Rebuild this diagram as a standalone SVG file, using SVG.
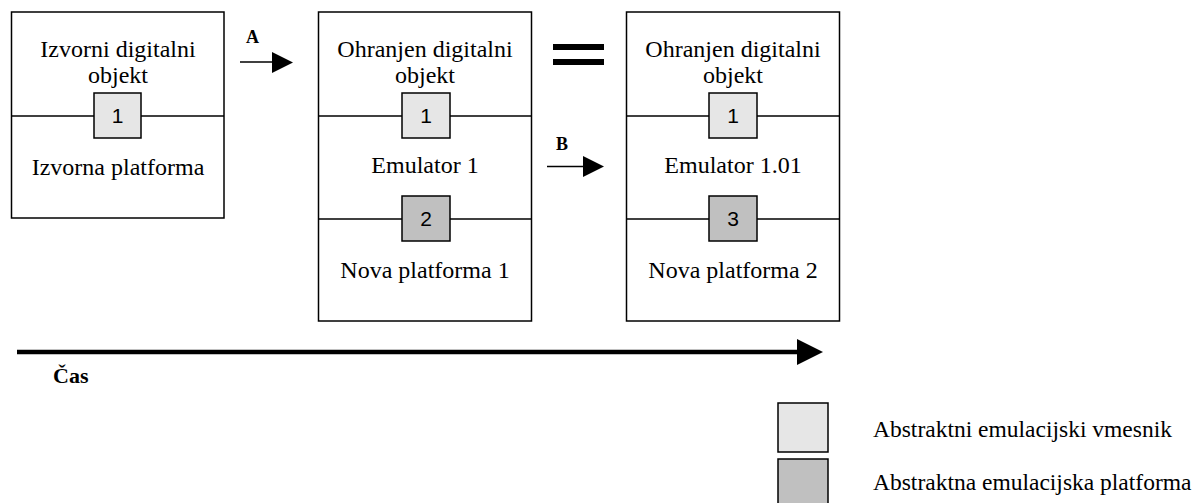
<svg xmlns="http://www.w3.org/2000/svg" width="1200" height="503" viewBox="0 0 1200 503">
<style>
.box{fill:#fff;stroke:#000;stroke-width:1.5}
.div{stroke:#000;stroke-width:1.5}
.sq1{fill:#e6e6e6;stroke:#000;stroke-width:1.5}
.sq2{fill:#c0c0c0;stroke:#000;stroke-width:1.5}
.t{font-family:"Liberation Serif","Times New Roman",serif;font-size:24px;fill:#000;text-anchor:middle}
.n{font-family:"Liberation Sans",Arial,sans-serif;font-size:21px;fill:#000;text-anchor:middle}
.b{font-family:"Liberation Serif","Times New Roman",serif;font-weight:bold;fill:#000}
.lg{font-family:"Liberation Serif","Times New Roman",serif;font-size:23.5px;fill:#000}
.ln{stroke:#000;stroke-width:1.5}
</style>
<rect width="1200" height="503" fill="#fff"/>
<g id="box1">
<rect class="box" x="11.5" y="12" width="212.5" height="206"/>
<line class="div" x1="11.5" y1="116" x2="224" y2="116"/>
<text class="t" x="118" y="57">Izvorni digitalni</text>
<text class="t" x="118" y="83">objekt</text>
<text class="t" x="118" y="175">Izvorna platforma</text>
<rect class="sq1" x="94" y="93" width="47" height="45"/>
<text class="n" x="117.5" y="123">1</text>
</g>
<g id="box2">
<rect class="box" x="318.5" y="12" width="213" height="309"/>
<line class="div" x1="318.5" y1="116" x2="531.5" y2="116"/>
<line class="div" x1="318.5" y1="219" x2="531.5" y2="219"/>
<text class="t" x="425" y="57">Ohranjen digitalni</text>
<text class="t" x="425" y="83">objekt</text>
<text class="t" x="425" y="173">Emulator 1</text>
<text class="t" x="425" y="278">Nova platforma 1</text>
<rect class="sq1" x="402" y="93" width="48" height="45"/>
<text class="n" x="426" y="123">1</text>
<rect class="sq2" x="402" y="196" width="48" height="45"/>
<text class="n" x="426" y="226">2</text>
</g>
<g id="box3">
<rect class="box" x="626.5" y="12" width="213" height="309"/>
<line class="div" x1="626.5" y1="116" x2="839.5" y2="116"/>
<line class="div" x1="626.5" y1="219" x2="839.5" y2="219"/>
<text class="t" x="733" y="57">Ohranjen digitalni</text>
<text class="t" x="733" y="83">objekt</text>
<text class="t" x="733" y="173">Emulator 1.01</text>
<text class="t" x="733" y="278">Nova platforma 2</text>
<rect class="sq1" x="709" y="93" width="48" height="45"/>
<text class="n" x="733" y="123">1</text>
<rect class="sq2" x="709" y="196" width="48" height="45"/>
<text class="n" x="733" y="226">3</text>
</g>
<g id="connectors">
<line class="ln" x1="240" y1="62" x2="274" y2="62"/>
<polygon points="272,52 293,62.5 272,73" fill="#000"/>
<text class="b" x="246" y="43" font-size="18">A</text>
<line class="ln" x1="547" y1="166.5" x2="585" y2="166.5"/>
<polygon points="583,156 604,166.5 583,177" fill="#000"/>
<text class="b" x="556" y="150" font-size="18">B</text>
<rect x="553" y="44" width="51" height="6" fill="#000"/>
<rect x="553" y="59" width="51" height="6" fill="#000"/>
<line x1="17" y1="352" x2="800" y2="352" stroke="#000" stroke-width="4.5"/>
<polygon points="797,339 823,352 797,365" fill="#000"/>
<text class="b" x="53" y="383" font-size="22">Čas</text>
</g>
<g id="legend">
<rect class="sq1" x="778" y="403" width="50" height="49"/>
<rect class="sq2" x="778" y="459" width="50" height="49"/>
<text class="lg" x="873" y="437">Abstraktni emulacijski vmesnik</text>
<text class="lg" x="873" y="490">Abstraktna emulacijska platforma</text>
</g>
</svg>
